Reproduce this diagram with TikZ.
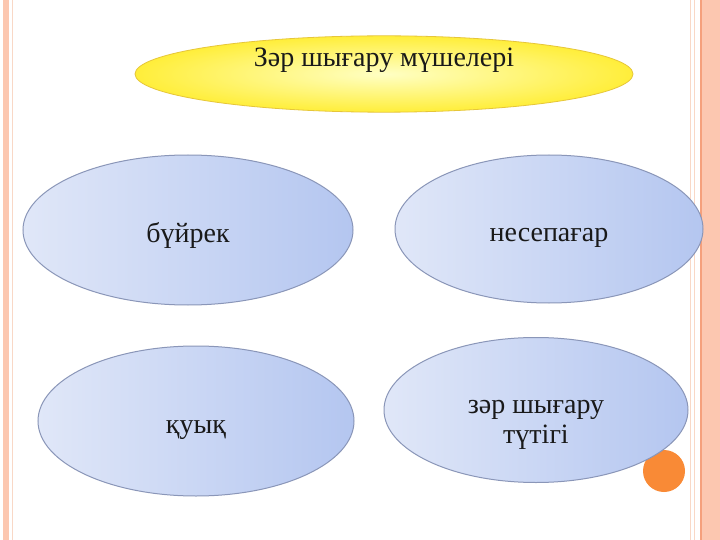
\documentclass[tikz,border=0pt]{standalone}
\usepackage{fontspec}
\setmainfont{Liberation Serif}
\usepackage{tikz}
\usetikzlibrary{shapes.geometric}

\definecolor{salmon}{HTML}{FCC7B0}
\definecolor{paleline}{HTML}{F9D8C6}
\definecolor{orangeline}{HTML}{F5A07C}
\definecolor{dotorange}{HTML}{F98A36}
\definecolor{organedge}{HTML}{8A96B8}
\definecolor{organlight}{HTML}{E0E7F8}
\definecolor{organdark}{HTML}{B4C6F0}
\definecolor{titleedge}{HTML}{E6C63A}
\definecolor{titlelight}{HTML}{FFFFC4}
\definecolor{titledark}{HTML}{FFEE3A}

\begin{document}
\begin{tikzpicture}[x=1pt, y=-1pt,
    organ/.style={ellipse, draw=organedge, line width=1pt, left color=organlight, right color=organdark, inner sep=0pt, text=black!90, font=\fontsize{28}{30}\selectfont, text height=26pt, text depth=2pt},
    title/.style={ellipse, draw=titleedge, line width=0.8pt, inner color=titlelight, outer color=titledark, inner sep=0pt, text=black!90, font=\fontsize{28}{30}\selectfont, text height=20pt, text depth=34pt}]

\useasboundingbox (0,0) rectangle (720,540);
\fill[white] (0,0) rectangle (720,540);

% --- Page frame ---
\fill[salmon] (3,0) rectangle (9,540);
\draw[paleline, line width=1pt] (12.5,0) -- (12.5,540);
\draw[paleline, line width=1pt] (690,0) -- (690,540);
\draw[paleline, line width=1pt] (694,0) -- (694,540);
\draw[orangeline, line width=2pt] (700.5,0) -- (700.5,540);
\fill[salmon] (702,0) rectangle (720,540);

% --- Corner dot (behind the last ellipse) ---
\node[circle, fill=dotorange, minimum size=42pt, inner sep=0pt] (dot) at (664,471) {};

% --- Title ---
\node[title, minimum width=498pt, minimum height=76pt] (organs) at (384,74) {Зәр шығару мүшелері};

% --- Organs ---
\node[organ, minimum width=330pt, minimum height=150pt] (kidney) at (188,230) {бүйрек};
\node[organ, minimum width=308pt, minimum height=148pt] (ureter) at (549,229) {несепағар};
\node[organ, minimum width=316pt, minimum height=150pt] (bladder) at (196,421) {қуық};
% two lines: first baseline 3pt below the centre
\node[organ, minimum width=304pt, minimum height=145pt, text height=10pt, text depth=4pt] (urethra) at (536,410)
    {\smash{\parbox[t]{200pt}{\centering зәр шығару\\ түтігі}}};

\end{tikzpicture}
\end{document}
